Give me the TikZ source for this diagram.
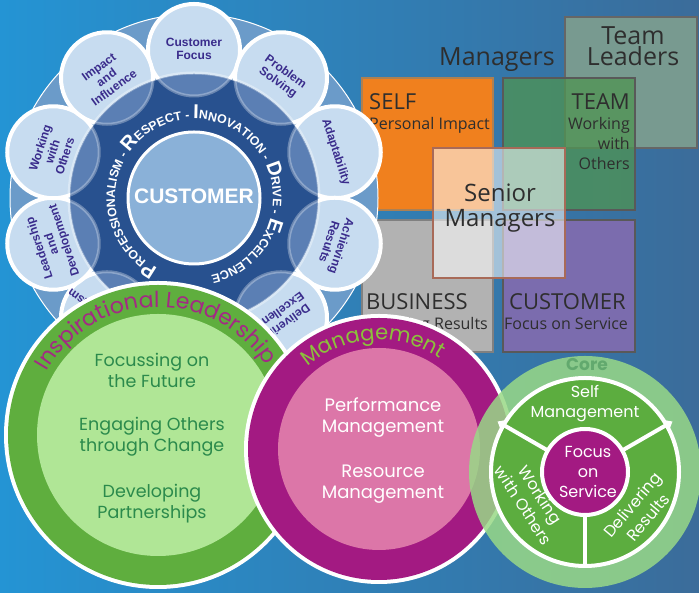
\documentclass[tikz,border=0pt]{standalone}
\usepackage{fontspec}
\usepackage{tikz}
\usetikzlibrary{decorations.text, arrows.meta, calc}
\newfontfamily\boxfont{Open Sans}
\newfontfamily\roundfont{Poppins}
\newfontfamily\wheelfont{Liberation Sans}

\definecolor{bgleft}{HTML}{2494D4}
\definecolor{bgright}{HTML}{3B6C9A}
\definecolor{wheelmid}{HTML}{6B9BC9}
\definecolor{bubblefill}{HTML}{C7DCF0}
\definecolor{bubbledim}{HTML}{5B7FB4}
\definecolor{wheeldark}{HTML}{28518F}
\definecolor{centreblue}{HTML}{8AB1D8}
\definecolor{bubbleink}{HTML}{3A2C8C}
\definecolor{panelink}{HTML}{2E2E2E}
\definecolor{selforange}{HTML}{F0801E}
\definecolor{teamgreen}{HTML}{4F9452}
\definecolor{leaderfill}{HTML}{789A90}
\definecolor{bizgrey}{HTML}{B2B2B2}
\definecolor{custpurple}{HTML}{7B6CAE}
\definecolor{senioredge}{HTML}{A86A58}
\definecolor{leafring}{HTML}{5FAE3E}
\definecolor{leafinner}{HTML}{B0E696}
\definecolor{leafink}{HTML}{2B8A4C}
\definecolor{inspink}{HTML}{A32A84}
\definecolor{mgmtring}{HTML}{A31A82}
\definecolor{mgmtinner}{HTML}{DC76A8}
\definecolor{mgmtgreen}{HTML}{8CC03C}
\definecolor{corelight}{HTML}{99D987}
\definecolor{coregreen}{HTML}{5CAD3F}
\definecolor{coretitle}{HTML}{62A96E}

\newcommand\ringbig{\color{white}\wheelfont\bfseries\fontsize{20}{20}\selectfont}
\newcommand\ringsmall{\color{white}\wheelfont\bfseries\fontsize{12.3}{12.3}\selectfont}
\newcommand\insptitle{\color{inspink}\roundfont\fontsize{22}{22}\selectfont}
\newcommand\mgmttitle{\color{mgmtgreen}\roundfont\fontsize{21}{21}\selectfont}

\tikzset{
  bubble/.style={fill=bubblefill, draw=white, line width=4pt},
  bubbletext/.style={text=bubbleink, align=center, inner sep=0pt,
    font=\wheelfont\bfseries\fontsize{12}{13}\selectfont},
  panel/.style={line width=1.2pt},
  paneltitle/.style={font=\boxfont\fontsize{22}{22}\selectfont, text=panelink, inner sep=0pt},
  panelsub/.style={font=\boxfont\fontsize{16}{20}\selectfont, text=panelink, inner sep=0pt},
  bigword/.style={font=\boxfont\fontsize{25}{21}\selectfont, text=panelink, align=center, inner sep=0pt},
  leaftext/.style={font=\roundfont\fontsize{17.5}{21}\selectfont, text=leafink, align=center},
  mgmttext/.style={font=\roundfont\fontsize{18}{21}\selectfont, text=white, align=center},
  coretext/.style={font=\roundfont\fontsize{16}{20}\selectfont, text=white, align=center, inner sep=0pt}
}

\begin{document}
\begin{tikzpicture}[x=1pt, y=1pt]
  \useasboundingbox (0,0) rectangle (699,593);
  \shade[left color=bgleft, right color=bgright] (0,0) rectangle (699,593);

  % the four quadrants
  \node[bigword] (managers) at (497,533) {Managers};
  \filldraw[panel, fill=leaderfill, draw=gray!80!black] (565,445) rectangle (697,576);
  \node[bigword] (leaders) at (633,547) {Team\\Leaders};
  \filldraw[panel, fill=selforange, draw=brown!70!gray] (362,383) rectangle (493,515);
  \node[paneltitle, anchor=base west] (selftitle) at (369,483) {SELF};
  \node[panelsub, anchor=base west] (selfsub) at (369,463) {Personal Impact};
  \filldraw[panel, fill=teamgreen, fill opacity=0.75, draw=gray!70!black] (503,383) rectangle (635,515);
  \node[paneltitle, anchor=base east] (teamtitle) at (630,483) {TEAM};
  \node[panelsub, anchor=north east, align=right] (teamsub) at (630,476) {Working\\with\\Others};
  \filldraw[panel, fill=bizgrey, draw=gray] (362,241) rectangle (493,373);
  \node[paneltitle, anchor=base west] (biztitle) at (366,283) {BUSINESS};
  \node[panelsub, anchor=base east] (bizsub) at (488,263) {Delivering Results};
  \filldraw[panel, fill=custpurple, draw=gray!70!black] (503,241) rectangle (635,373);
  \node[paneltitle, anchor=base west] (custtitle) at (509,283) {CUSTOMER};
  \node[panelsub, anchor=base west] (custsub) at (504,263) {Focus on Service};
  \filldraw[fill=white, fill opacity=0.55, draw=senioredge, line width=2pt] (433,315) rectangle (565,445);
  \node[bigword, font=\boxfont\fontsize{24}{25}\selectfont] (senior) at (500,385) {Senior\\Managers};

  % values wheel
  \begin{scope}[shift={(194,395)}]
    \filldraw[fill=wheelmid, draw=white, line width=1pt] (0,0) circle (184);
    \foreach \a in {90,54,18,-18,-54,-90,-126,-162,162,126}
      \draw[bubble] (\a:148) circle (46);
    \fill[wheeldark] (0,0) circle (124);
    \begin{scope}
      \clip (0,0) circle (124);
      \foreach \a in {90,54,18,-18,-54,-90,-126,-162,162,126}
        \filldraw[fill=bubbledim, draw=white, draw opacity=0.3, line width=3pt] (\a:148) circle (46);
    \end{scope}
    \draw[white, opacity=0.35, line width=3pt] (0,0) circle (125);
    \filldraw[fill=centreblue, draw=white, line width=3pt] (0,0) circle (66);
    \node[text=white, font=\wheelfont\bfseries\fontsize{21}{21}\selectfont] (customer) at (0,2) {CUSTOMER};
    \path[decorate, decoration={text along path, text align={align=center},
      text={|\ringbig|P|\ringsmall|ROFESSIONALISM - |\ringbig|R|\ringsmall|ESPECT - |\ringbig|I|\ringsmall|NNOVATION - |\ringbig|D|\ringsmall|RIVE - |\ringbig|E|\ringsmall|XCELLENCE}}]
      (258:79) arc[start angle=258, end angle=-93, radius=79];
    \foreach \a/\txt [count=\i] in {90/{Customer\\Focus}, 54/{Problem\\Solving}, 18/Adaptability,
        -18/{Achieving\\Results}, -54/{Delivering\\Excellence}, -126/Professionalism,
        -162/{Leadership\\and\\Development}, 162/{Working\\with\\Others}, 126/{Impact\\and\\Influence}}
      \node[bubbletext, rotate=\a-90] (skill\i) at (\a:149) {\txt};
  \end{scope}

  % inspirational leadership
  \fill[white] (158,158) circle (154);
  \fill[leafring] (158,158) circle (150);
  \fill[leafinner] (158,158) circle (121);
  \path[decorate, decoration={text along path, text align={align=center}, text={|\insptitle|Inspirational Leadership}}]
    (158,158) ++(176:128) arc[start angle=176, end angle=7, radius=128];
  \node[leaftext] (future) at (152,223) {Focussing on\\the Future};
  \node[leaftext] (engaging) at (152,156) {Engaging Others\\through Change};
  \node[leaftext] (partners) at (152,89) {Developing\\Partnerships};

  % management
  \fill[white] (379,144) circle (135);
  \fill[mgmtring] (379,144) circle (131);
  \fill[mgmtinner] (379,144) circle (101);
  \path[decorate, decoration={text along path, text align={align=center}, text={|\mgmttitle|Management}}]
    (379,144) ++(180:109) arc[start angle=180, end angle=7, radius=109];
  \node[mgmttext] (performance) at (383,175) {Performance\\Management};
  \node[mgmttext] (resource) at (383,109) {Resource\\Management};

  % core
  \begin{scope}[shift={(585,121)}]
    \fill[corelight, fill opacity=0.85] (0,0) circle (116);
    \filldraw[fill=coregreen, draw=white, line width=4pt] (0,0) circle (94);
    \foreach \a in {30,150}
      \draw[white, line width=4pt, -{Triangle[width=11pt,length=7pt]}] (\a:44) -- (\a:101);
    \draw[white, line width=4pt] (270:44) -- (270:94);
    \filldraw[fill=mgmtring, draw=white, line width=4pt] (0,0) circle (43);
    \node[font=\roundfont\bfseries\fontsize{17}{17}\selectfont, text=coretitle] (core) at (2,107) {Core};
    \node[coretext] (selfmgmt) at (0,68) {Self\\Management};
    \node[coretext] (focus) at (3,0) {Focus\\on\\Service};
    \node[coretext, rotate=-57] (working) at (-53,-28) {Working\\with Others};
    \node[coretext, rotate=50] (delivering) at (55,-39) {Delivering\\Results};
  \end{scope}
\end{tikzpicture}
\end{document}
